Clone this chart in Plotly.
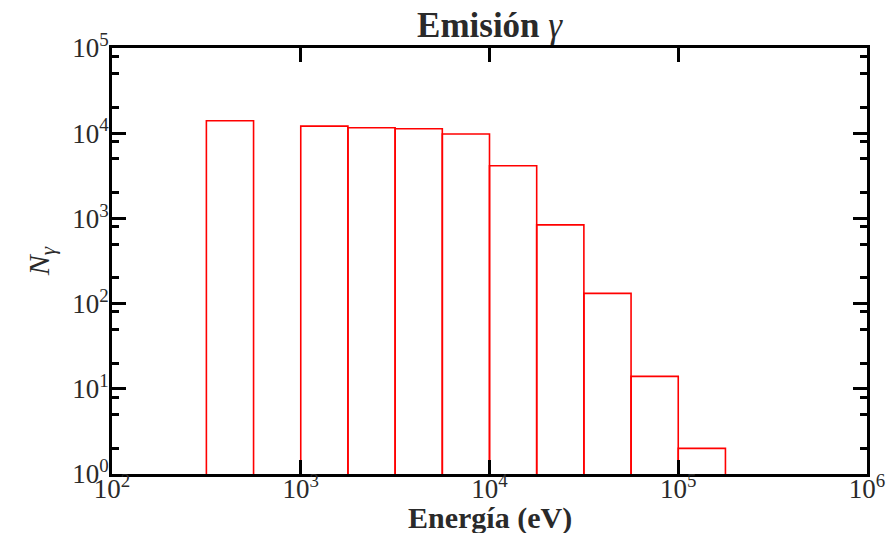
import plotly.graph_objects as go

# Histogram data (log-spaced bins, 4 per decade)
bin_edges = [316.23, 562.34, 1000.0, 1778.28, 3162.28, 5623.41, 10000.0,
             17782.8, 31622.8, 56234.1, 100000.0, 177827.9]
counts = [14000, 0, 12100, 11600, 11300, 9800, 4150, 840, 132, 14, 2]

x_tick_vals = [1e2, 1e3, 1e4, 1e5, 1e6]
x_tick_text = ["10<sup>2</sup>", "10<sup>3</sup>", "10<sup>4</sup>", "10<sup>5</sup>", "10<sup>6</sup>"]
y_tick_vals = [1, 10, 100, 1000, 10000, 100000]
y_tick_text = ["10<sup>0</sup>", "10<sup>1</sup>", "10<sup>2</sup>", "10<sup>3</sup>", "10<sup>4</sup>", "10<sup>5</sup>"]
y_minor_vals = [m * 10 ** k for k in range(5) for m in (2, 5, 8)]

baseline = 1
xs, ys = [], []
for i, c in enumerate(counts):
    if c <= 0:
        continue
    lo, hi = bin_edges[i], bin_edges[i + 1]
    xs += [lo, lo, hi, hi, None]
    ys += [baseline, c, c, baseline, None]

FONT = "Liberation Serif"
TXT = "#2a2a2a"

fig = go.Figure()
fig.add_trace(go.Scatter(x=xs, y=ys, mode="lines",
                         line=dict(color="red", width=1.6),
                         hoverinfo="skip", showlegend=False))

axis_common = dict(
    showline=True, linecolor="black", linewidth=3, mirror="ticks",
    ticks="inside", ticklen=14, tickwidth=2.5, tickcolor="black",
    showgrid=False, zeroline=False, automargin=False,
    tickfont=dict(family=FONT, size=27, color=TXT),
)

fig.update_xaxes(type="log", range=[2, 6], tickmode="array",
                 tickvals=x_tick_vals, ticktext=x_tick_text,
                 ticklabelstandoff=-11,
                 **axis_common)
fig.update_yaxes(type="log", range=[0, 5], tickmode="array",
                 tickvals=y_tick_vals, ticktext=y_tick_text,
                 ticklabelstandoff=-5,
                 minor=dict(tickmode="array", tickvals=y_minor_vals, ticks="inside",
                            ticklen=7, tickwidth=2.5, tickcolor="black", showgrid=False),
                 title=dict(text="<i>N<sub>γ</sub></i>", font=dict(family=FONT, size=30, color=TXT), standoff=14),
                 **axis_common)

fig.add_annotation(text="<b>Energía (eV)</b>", xref="paper", yref="paper",
                   x=0.5, y=0, xanchor="center", yanchor="bottom", yshift=-63,
                   showarrow=False, font=dict(family=FONT, size=30, color=TXT))

fig.update_layout(
    width=891, height=533,
    margin=dict(l=112, r=24, t=48, b=59),
    paper_bgcolor="white", plot_bgcolor="white",
    title=dict(text="<b>Emisión</b> <i>γ</i>", x=0.5495, xanchor="center",
               y=0.93, yanchor="bottom",
               font=dict(family=FONT, size=35, color=TXT)),
)

fig.write_html("out.html")
